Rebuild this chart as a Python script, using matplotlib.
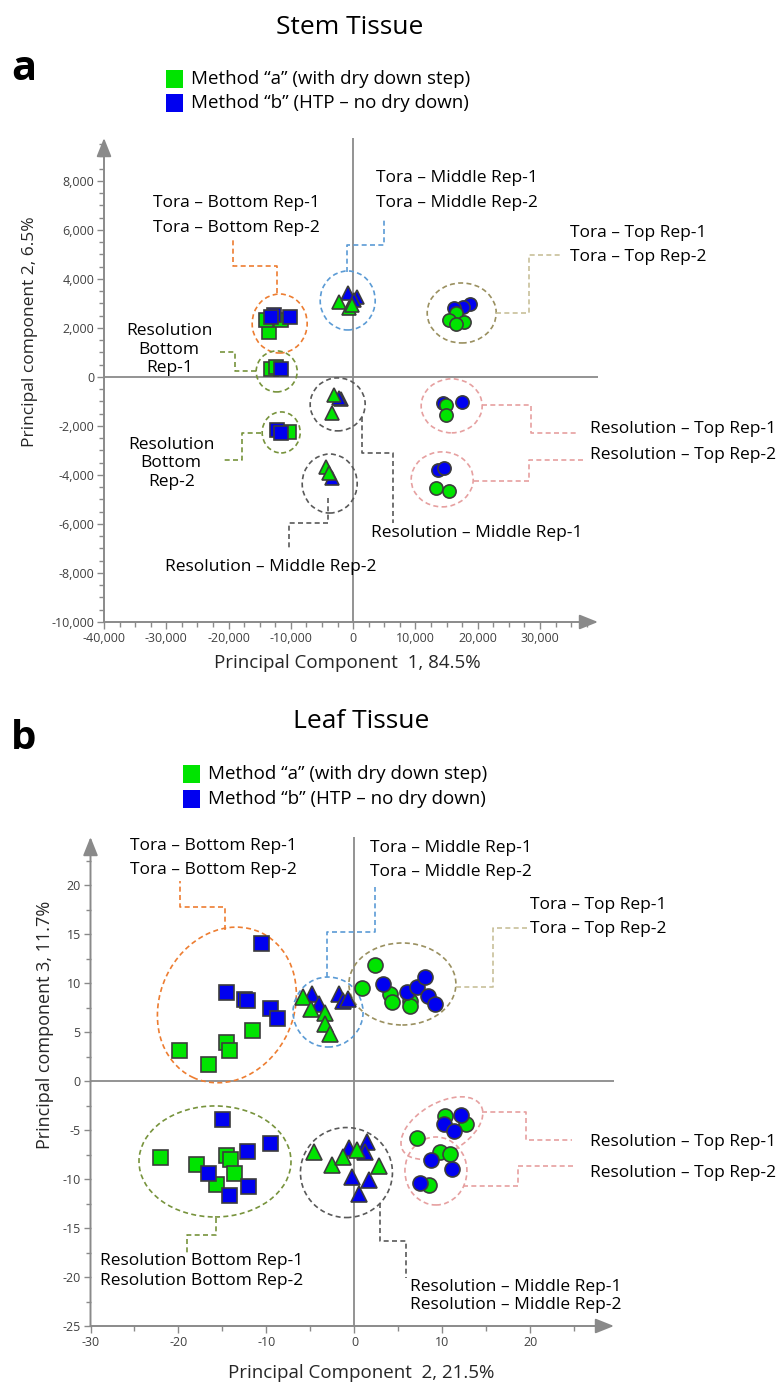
import matplotlib
matplotlib.use('Agg')
import matplotlib.pyplot as plt
import matplotlib.transforms as transforms
from matplotlib.patches import Ellipse, Rectangle
from matplotlib.ticker import MultipleLocator, FuncFormatter

plt.rcParams['font.family'] = ['Open Sans', 'DejaVu Sans']

W, H = 782, 1384

GREEN = '#00e400'
BLUE = '#0000f0'
EDGE = '#3c3c3c'
AXIS_GRAY = '#8a8a8a'
TICK_TXT = '#404040'

ORANGE = '#ed7d31'
LBLUE = '#5b9bd5'
KHAKI = '#9a9060'
KHAKI_LT = '#c8c09a'
OLIVE = '#77933c'
DGRAY = '#595959'
PINK = '#e6a0a0'

legend_labels = ['Method \u201ca\u201d (with dry down step)',
                 'Method \u201cb\u201d (HTP \u2013 no dry down)']

#******************************************************************************
# Stem tissue scores (PC1 vs PC2)
#******************************************************************************
# method "a" (green)
stem_a_x = [-13480, -13960, -11560, -13210, -12410, -10380,
            -2250, -640, -110, -3050, -3320, -4390, -3850,
            16480, 15410, 17820, 16480, 14880, 14880, 13270, 15410]
stem_a_y = [1840, 2330, 2330, 310, 400, -2230,
            3070, 2800, 2940, -735, -1480, -3690, -3930,
            2600, 2330, 2260, 2160, -1140, -1550, -4540, -4640]
stem_a_part = ['Bottom'] * 6 + ['Middle'] * 7 + ['Top'] * 8

# method "b" (blue)
stem_b_x = [-12680, -10110, -13160, -11600, -12150, -11610,
            -910, 690, 160, -1980, -2250, -3320,
            18730, 17550, 16210, 17440, 14340, 13540, 14610]
stem_b_y = [2530, 2450, 2450, 340, -2160, -2270,
            3420, 3280, 3140, -910, -870, -4140,
            2980, 2870, 2800, -1010, -1075, -3800, -3730]
stem_b_part = ['Bottom'] * 6 + ['Middle'] * 6 + ['Top'] * 7

#******************************************************************************
# Leaf tissue scores (PC2 vs PC3)
#******************************************************************************
leaf_a_x = [-11.6, -14.6, -14.3, -19.9, -16.6, -22.1, -18.0, -14.6, -14.1, -13.7, -15.7,
            -5.8, -4.9, -3.4, -3.4, -2.8, -4.6, -2.5, -1.3, 0.25, 2.8,
            2.3, 0.9, 4.0, 4.3, 6.3, 6.3, 10.3, 12.7, 7.1, 9.7, 10.9, 8.5]
leaf_a_y = [5.2, 4.0, 3.2, 3.2, 1.7, -7.8, -8.5, -7.55, -8.0, -9.4, -10.5,
            8.6, 7.3, 6.9, 5.8, 4.8, -7.2, -8.6, -7.8, -7.0, -8.7,
            11.8, 9.5, 8.9, 8.1, 8.2, 7.7, -3.6, -4.4, -5.8, -7.2, -7.45, -10.6]
leaf_a_part = ['Bottom'] * 11 + ['Middle'] * 10 + ['Top'] * 12

leaf_b_x = [-10.6, -14.6, -12.6, -12.25, -9.6, -8.8, -15.0, -12.25, -9.6, -16.6, -12.1, -14.3,
            -4.8, -4.0, -1.8, -1.3, -0.7, -0.6, 1.4, 1.2, -0.3, 1.6, 0.5,
            3.3, 6.0, 7.1, 8.0, 8.4, 9.1, 12.1, 10.2, 11.3, 8.7, 11.1, 7.4]
leaf_b_y = [14.1, 9.05, 8.4, 8.3, 7.5, 6.4, -3.9, -7.1, -6.3, -9.4, -10.7, -11.6,
            8.9, 7.9, 8.9, 8.2, 8.4, -6.8, -6.2, -7.2, -9.8, -10.1, -11.5,
            9.9, 9.1, 9.6, 10.6, 8.7, 7.9, -3.5, -4.4, -5.1, -8.1, -9.0, -10.4]
leaf_b_part = ['Bottom'] * 12 + ['Middle'] * 11 + ['Top'] * 12

PART_MARKER = {'Bottom': 's', 'Middle': '^', 'Top': 'o'}

#******************************************************************************
# Group outlines and call-outs (centre in data units, size in pixels)
#******************************************************************************
stem_rings = [(-11800, 2180, 55, 59, 0, ORANGE),
              (-12280, 225, 41, 41, 0, OLIVE),
              (-11560, -2265, 38, 41, 0, OLIVE),
              (-880, 3120, 55, 59, 0, LBLUE),
              (-2490, -1120, 55, 53, 0, DGRAY),
              (-3770, -4350, 55, 59, 0, DGRAY),
              (17420, 2610, 69, 60, 0, KHAKI),
              (15810, -1180, 61, 54, 0, PINK),
              (14290, -4180, 62, 55, 0, PINK)]

stem_leaders = [([-12200, -12200, -19260, -19260], [3430, 4530, 4530, 5590], ORANGE),
                ([-960, -960, 4980, 4980], [4290, 5390, 5390, 6490], LBLUE),
                ([22950, 28250, 28250, 33550], [2610, 2610, 4980, 4980], KHAKI_LT),
                ([20710, 28570, 28570, 35790], [-1140, -1140, -2290, -2290], PINK),
                ([19420, 28250, 28250, 37080], [-4240, -4240, -3390, -3390], PINK),
                ([1440, 1440, 6420, 6420], [-1630, -3100, -3100, -5960], DGRAY),
                ([-4080, -4080, -10270, -10270], [-4940, -5960, -5960, -7060], DGRAY),
                ([-15570, -18940, -18940, -21830], [245, 245, 1020, 1020], OLIVE),
                ([-14770, -17820, -17820, -20710], [-2290, -2290, -3390, -3390], OLIVE)]

stem_notes = [(-18700, 7100, 'Tora \u2013 Bottom Rep-1', 'center'),
              (-18700, 6080, 'Tora \u2013 Bottom Rep-2', 'center'),
              (3690, 8120, 'Tora \u2013 Middle Rep-1', 'left'),
              (3690, 7100, 'Tora \u2013 Middle Rep-2', 'left'),
              (34830, 5880, 'Tora \u2013 Top Rep-1', 'left'),
              (34830, 4900, 'Tora \u2013 Top Rep-2', 'left'),
              (38040, -2120, 'Resolution \u2013 Top Rep-1', 'left'),
              (38040, -3180, 'Resolution \u2013 Top Rep-2', 'left'),
              (19900, -6370, 'Resolution \u2013 Middle Rep-1', 'center'),
              (-13160, -7760, 'Resolution \u2013 Middle Rep-2', 'center'),
              (-29530, 1880, 'Resolution', 'center'),
              (-29530, 1100, 'Bottom', 'center'),
              (-29530, 370, 'Rep-1', 'center'),
              (-29210, -2780, 'Resolution', 'center'),
              (-29210, -3510, 'Bottom', 'center'),
              (-29210, -4290, 'Rep-2', 'center')]

leaf_rings = [(-14.5, 7.76, 134, 160, -25, ORANGE),
              (-3.0, 7.04, 70, 70, 0, LBLUE),
              (5.45, 9.9, 107, 82, 0, KHAKI),
              (-15.85, -8.21, 152, 111, 0, OLIVE),
              (-0.91, -9.34, 92, 90, 0, DGRAY),
              (9.94, -4.8, 90, 50, 30, PINK),
              (9.26, -9.18, 62, 68, 0, PINK)]

leaf_leaders = [([-14.7, -14.7, -19.8, -19.8], [15.4, 17.8, 17.8, 20.4], ORANGE),
                ([-3.1, -3.1, 2.33, 2.33], [10.6, 15.2, 15.2, 19.8], LBLUE),
                ([11.5, 15.7, 15.7, 19.6], [9.6, 9.6, 15.6, 15.6], KHAKI_LT),
                ([-15.7, -15.7, -19.0, -19.0], [-14.0, -15.7, -15.7, -17.55], OLIVE),
                ([2.9, 2.9, 5.9, 5.9], [-12.45, -16.3, -16.3, -20.1], DGRAY),
                ([14.5, 19.5, 19.5, 24.7], [-3.16, -3.16, -6.0, -6.0], PINK),
                ([12.3, 18.6, 18.6, 24.8], [-10.7, -10.7, -8.67, -8.67], PINK)]

leaf_notes = [(-25.5, 24.0, 'Tora \u2013 Bottom Rep-1', 'left'),
              (-25.5, 21.5, 'Tora \u2013 Bottom Rep-2', 'left'),
              (1.76, 23.8, 'Tora \u2013 Middle Rep-1', 'left'),
              (1.76, 21.3, 'Tora \u2013 Middle Rep-2', 'left'),
              (19.94, 17.96, 'Tora \u2013 Top Rep-1', 'left'),
              (19.94, 15.5, 'Tora \u2013 Top Rep-2', 'left'),
              (26.76, -6.2, 'Resolution \u2013 Top Rep-1', 'left'),
              (26.76, -9.4, 'Resolution \u2013 Top Rep-2', 'left'),
              (-28.9, -18.4, 'Resolution Bottom Rep-1', 'left'),
              (-28.9, -20.4, 'Resolution Bottom Rep-2', 'left'),
              (6.3, -21.0, 'Resolution \u2013 Middle Rep-1', 'left'),
              (6.3, -22.9, 'Resolution \u2013 Middle Rep-2', 'left')]


fig = plt.figure(figsize=(W / 100, H / 100), dpi=100)


def px_box(left, top, right, bottom):
    return [left / W, 1 - bottom / H, (right - left) / W, (bottom - top) / H]


def fig_text(x, y, s, **kw):
    fig.text(x / W, 1 - y / H, s, **kw)


def style_axes(ax):
    for sp in ax.spines.values():
        sp.set_visible(False)
    arrow = dict(arrowstyle='-|>,head_length=0.75,head_width=0.3', color=AXIS_GRAY,
                 lw=1.4, shrinkA=0, shrinkB=0, mutation_scale=15)
    ax.annotate('', xy=(0, 1), xytext=(0, 0), xycoords='axes fraction', arrowprops=arrow)
    ax.annotate('', xy=(1, 0), xytext=(0, 0), xycoords='axes fraction', arrowprops=arrow)
    ax.axhline(0, color=AXIS_GRAY, lw=1.3, zorder=0.5)
    ax.axvline(0, color=AXIS_GRAY, lw=1.3, zorder=0.5)
    ax.tick_params(which='both', direction='out', color=AXIS_GRAY, width=1.0,
                   labelcolor=TICK_TXT, labelsize=9, pad=2)
    ax.tick_params(which='major', length=5)
    ax.tick_params(which='minor', length=3.5)


def draw_points(ax, a_x, a_y, a_part, b_x, b_y, b_part, msize, order):
    sets = {'a': (a_x, a_y, a_part, GREEN), 'b': (b_x, b_y, b_part, BLUE)}
    z = 3
    for part, marker in PART_MARKER.items():
        for m in order[part]:
            xs, ys, parts, col = sets[m]
            px = [x for x, p in zip(xs, parts) if p == part]
            py = [y for y, p in zip(ys, parts) if p == part]
            ms = msize * 1.12 if marker == '^' else msize
            ax.plot(px, py, ls='none', marker=marker, ms=ms, mfc=col, mec=EDGE,
                    mew=1.2, zorder=z)
            z += 0.1


def draw_rings(ax, rings):
    for xc, yc, w, h, ang, col in rings:
        trans = fig.dpi_scale_trans + transforms.ScaledTranslation(xc, yc, ax.transData)
        ax.add_patch(Ellipse((0, 0), w / fig.dpi, h / fig.dpi, angle=ang, transform=trans,
                             fill=False, edgecolor=col, lw=1.2, ls=(0, (3, 2)),
                             zorder=2, clip_on=False))


def draw_callouts(ax, leaders, notes):
    for xs, ys, col in leaders:
        ax.plot(xs, ys, color=col, lw=1.2, ls=(0, (3, 2)), clip_on=False, zorder=2)
    for x, y, s, ha in notes:
        ax.text(x, y, s, ha=ha, va='center', fontsize=12.5, color='black', clip_on=False)


def draw_legend(x0, y0, dy):
    for i, (col, lab) in enumerate(zip([GREEN, BLUE], legend_labels)):
        yc = y0 + i * dy
        fig.patches.append(Rectangle((x0 / W, 1 - (yc + 9) / H), 17 / W, 18 / H,
                                     transform=fig.transFigure, facecolor=col,
                                     edgecolor='none'))
        fig_text(x0 + 25, yc, lab, ha='left', va='center', fontsize=13.5)


#******************************************************************************
# a) Stem tissue
#******************************************************************************
fig_text(350, 27, 'Stem Tissue', ha='center', va='center', fontsize=19)
fig_text(11, 80, 'a', ha='left', va='baseline', fontsize=30, fontweight='bold')
draw_legend(166, 79, 24)

ax1 = fig.add_axes(px_box(104, 138, 598, 622))
ax1.set_xlim(-40000, 39300)
ax1.set_ylim(-10000, 9750)
style_axes(ax1)
ax1.xaxis.set_major_locator(MultipleLocator(10000))
ax1.xaxis.set_minor_locator(MultipleLocator(2500))
ax1.yaxis.set_major_locator(MultipleLocator(2000))
ax1.yaxis.set_minor_locator(MultipleLocator(500))
comma = FuncFormatter(lambda v, p: '{:,d}'.format(int(round(v))))
ax1.xaxis.set_major_formatter(comma)
ax1.yaxis.set_major_formatter(comma)

draw_rings(ax1, stem_rings)
draw_callouts(ax1, stem_leaders, stem_notes)
draw_points(ax1, stem_a_x, stem_a_y, stem_a_part, stem_b_x, stem_b_y, stem_b_part, 9.5,
            {'Bottom': 'ab', 'Middle': 'ba', 'Top': 'ba'})

fig_text(347, 663, 'Principal Component  1, 84.5%', ha='center', va='center', fontsize=13.5,
         color='#262626')
fig_text(30, 332, 'Principal component 2, 6.5%', ha='center', va='center', fontsize=12.5,
         rotation=90, color='#262626')

#******************************************************************************
# b) Leaf tissue
#******************************************************************************
fig_text(361, 722, 'Leaf Tissue', ha='center', va='center', fontsize=19)
fig_text(11, 749, 'b', ha='left', va='baseline', fontsize=29, fontweight='bold')
draw_legend(183, 774, 25)

ax2 = fig.add_axes(px_box(90.5, 837, 614, 1326))
ax2.set_xlim(-30, 29.5)
ax2.set_ylim(-25, 24.9)
style_axes(ax2)
ax2.xaxis.set_major_locator(MultipleLocator(10))
ax2.xaxis.set_minor_locator(MultipleLocator(5))
ax2.yaxis.set_major_locator(MultipleLocator(5))
ax2.yaxis.set_minor_locator(MultipleLocator(2.5))
plain = FuncFormatter(lambda v, p: '{:d}'.format(int(round(v))))
ax2.xaxis.set_major_formatter(plain)
ax2.yaxis.set_major_formatter(plain)

draw_rings(ax2, leaf_rings)
draw_callouts(ax2, leaf_leaders, leaf_notes)
draw_points(ax2, leaf_a_x, leaf_a_y, leaf_a_part, leaf_b_x, leaf_b_y, leaf_b_part, 10.8,
            {'Bottom': 'ab', 'Middle': 'ba', 'Top': 'ab'})

fig_text(361, 1373, 'Principal Component  2, 21.5%', ha='center', va='center', fontsize=13.5,
         color='#262626')
fig_text(45, 1025, 'Principal component 3, 11.7%', ha='center', va='center', fontsize=13,
         rotation=90, color='#262626')

plt.savefig('out.png', dpi=100)
